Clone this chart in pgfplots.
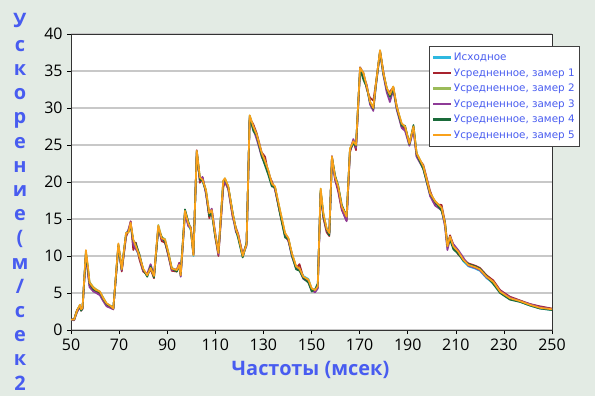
\documentclass[border=0pt]{standalone}
\usepackage{pgfplots}
\usepackage{pgfplotstable}
\pgfplotsset{compat=1.18}
\usepackage{fontspec}
\setmainfont{Open Sans}
\newfontfamily\legfont{DejaVu Sans}
\definecolor{bgc}{RGB}{227,235,228}
\definecolor{bluet}{RGB}{72,92,240}
\definecolor{cO}{RGB}{46,184,224}
\definecolor{cA}{RGB}{168,35,46}
\definecolor{cB}{RGB}{155,187,89}
\definecolor{cC}{RGB}{142,59,151}
\definecolor{cD}{RGB}{26,107,58}
\definecolor{cE}{RGB}{249,161,27}
\definecolor{gridc}{RGB}{200,200,200}
\pgfplotstableread{
x o a b c d e
50 1.4 1.4 1.4 1.4 1.4 1.4
51.3 1.4 1.5 1.4 1.3 1.4 1.4
52.5 2.5 2.7 2.6 2.4 2.6 2.6
53.7 3.3 3.2 3.4 3.1 3.3 3.4
54.2 2.7 2.6 2.8 2.7 2.6 2.8
54.8 2.9 3.0 3.0 2.8 3.0 3.0
56.2 10.5 10.2 10.6 10.3 10.4 10.8
57.2 7.6 7.4 8.0 7.2 7.8 8.1
57.7 6.2 6.0 6.5 5.8 6.3 6.4
59.3 5.6 5.4 5.8 5.2 5.5 5.7
60.5 5.3 5.2 5.5 5.0 5.3 5.4
62 5.0 4.9 5.2 4.7 5.1 5.2
63.4 4.2 4.1 4.4 3.9 4.2 4.3
64.8 3.5 3.4 3.6 3.2 3.5 3.6
66.9 3.1 3.0 3.2 2.9 3.1 3.15
67.6 2.9 2.8 2.9 2.8 2.9 2.9
69.7 11.4 11.5 11.6 11.2 11.3 11.7
71.1 8.0 7.9 8.3 8.1 8.2 8.2
72.9 12.9 12.6 13.0 12.8 13.1 13.1
73.9 13.5 13.4 13.2 13.6 13.3 13.2
74.8 14.3 14.7 14.4 14.6 14.2 14.5
75.9 11.8 10.8 12.0 11.5 12.1 12.2
77 11.0 11.8 11.2 10.9 11.6 11.3
78.4 9.9 9.6 10.0 10.2 10.3 10.1
80 8.1 7.9 8.2 8.0 8.2 8.3
81.7 7.3 7.5 7.4 7.6 7.2 7.4
83.1 8.5 8.2 8.4 8.9 8.6 8.4
84.5 7.2 7.0 7.3 7.4 7.1 7.3
86.3 13.8 14.0 14.2 13.6 13.7 14.1
87.7 12.2 12.0 12.5 12.3 12.6 12.4
89.1 11.9 11.8 12.3 12.0 11.9 12.2
90.5 10.2 10.0 10.5 10.1 10.3 10.4
91.9 8.2 8.0 8.4 8.1 8.3 8.3
94 8.0 7.9 8.1 8.2 7.9 8.1
95 8.6 9.1 8.8 9.0 8.7 8.8
95.6 7.3 7.5 7.4 7.2 7.6 7.4
97.4 15.9 16.0 16.1 15.7 16.3 16.1
98.8 14.2 14.1 14.5 14.0 14.6 14.4
99.8 13.5 13.9 13.7 13.8 13.6 13.7
100.9 10.0 10.3 10.1 10.2 10.4 10.1
102.3 24.0 24.3 24.2 23.9 24.1 24.2
103.6 20.4 19.9 20.6 20.2 20.3 20.6
104.7 20.1 20.6 20.3 20.7 20.2 20.3
106.1 18.7 18.6 19.0 18.4 18.8 18.9
107.5 15.5 15.1 15.8 15.6 15.4 15.8
108.5 16.0 16.3 16.2 16.4 15.9 16.2
109.9 12.9 12.7 13.1 13.3 12.8 13.1
111.3 10.3 10.0 10.4 10.2 10.5 10.4
113.3 19.8 19.2 20.0 19.6 20.1 20.2
114 20.3 20.1 20.5 20.0 20.4 20.5
115.4 19.2 19.0 19.4 19.1 19.3 19.4
117.2 15.6 15.3 15.8 15.5 15.9 15.8
118.6 13.4 13.8 13.6 13.2 13.5 13.6
119.5 12.6 13.0 12.8 12.9 12.4 12.8
121.4 9.9 10.2 10.0 10.1 9.8 10.0
123 11.5 11.7 11.6 11.4 11.8 11.6
124.3 28.8 28.6 29.0 28.7 28.9 29.0
125.8 27.3 27.8 27.5 27.1 26.9 27.5
127.2 26.2 26.6 26.4 25.8 26.3 26.4
129.3 23.7 24.0 23.9 23.4 23.5 23.9
130.7 22.6 23.4 22.8 22.5 22.2 22.8
132 21.4 21.2 21.6 21.5 21.0 21.6
133.5 19.6 20.1 19.8 19.7 19.4 19.8
134.8 19.2 19.0 19.4 19.1 19.3 19.4
136.9 16.0 15.8 16.2 15.9 15.7 16.2
139 12.9 12.8 13.1 12.7 12.5 13.1
140.4 12.2 12.0 12.4 12.1 12.3 12.4
141.8 10.2 10.4 10.4 10.0 10.1 10.4
143.6 8.5 8.3 8.6 8.4 8.2 8.6
145 8.4 8.9 8.3 8.2 8.0 8.3
146.6 7.3 7.1 7.2 6.9 7.0 7.2
148.7 6.9 6.6 6.8 6.5 6.4 6.8
150.1 5.5 5.4 5.6 5.3 5.2 5.6
151.5 5.2 5.3 5.4 5.1 5.5 5.4
152.6 5.7 5.8 5.9 5.6 6.3 5.9
153.8 18.8 18.6 19.1 18.5 18.7 19.1
154.9 15.6 15.2 15.8 15.4 15.5 15.8
156.3 13.5 13.2 13.7 13.4 13.6 13.7
157.4 12.9 12.7 13.1 13.0 12.8 13.1
158.5 23.2 23.5 23.4 23.0 23.3 23.4
159.8 20.5 20.3 20.7 20.4 20.9 20.7
161.1 19.2 18.7 19.4 19.0 19.5 19.4
162.6 16.5 16.2 16.7 16.4 16.9 16.7
163.9 15.6 15.3 15.8 15.2 15.9 15.8
164.6 15.1 14.8 15.3 14.7 15.4 15.3
166 24.3 24.0 24.5 24.2 24.4 24.5
167.4 25.3 25.6 25.5 25.8 25.2 25.5
168.5 24.8 24.3 25.0 24.6 24.9 25.0
170.2 35.2 35.5 35.4 35.0 35.3 35.4
171.6 34.5 34.7 34.7 34.3 33.8 34.7
173 32.7 32.5 32.9 33.1 32.8 32.9
174.3 30.7 31.4 30.9 30.5 30.8 30.9
175.7 29.8 31.0 30.0 29.6 29.9 30.0
176.8 33.1 33.4 33.3 33.0 33.2 33.3
178.5 37.6 37.7 37.8 37.5 37.6 37.8
179.9 34.5 34.9 34.7 34.4 34.6 34.7
181.3 32.5 32.3 32.7 32.1 32.6 32.7
182.6 31.6 32.2 31.8 30.8 31.5 31.8
184 32.7 32.8 32.9 32.5 32.6 32.9
185.4 30.0 30.3 30.2 29.8 30.1 30.2
187.5 27.7 27.4 27.9 27.3 27.6 27.9
188.9 27.3 27.2 27.5 26.9 27.6 27.5
190.7 25.0 25.3 25.2 24.9 25.1 25.2
192.4 27.3 27.2 27.5 27.1 27.7 27.5
193.7 23.7 23.5 23.9 23.4 23.8 23.9
196.5 21.9 22.3 22.1 21.8 21.7 22.1
199.3 18.3 18.8 18.5 18.1 18.4 18.5
201.4 17.2 17.0 17.4 16.8 17.3 17.4
204.1 16.3 16.9 16.5 16.2 16.1 16.5
205.5 14.2 14.6 14.4 14.0 14.5 14.4
206.5 11.1 11.5 11.3 10.8 11.4 11.3
207.6 12.4 12.8 12.6 12.3 12.2 12.6
209 11.1 11.5 11.3 11.6 10.9 11.3
211 10.4 10.2 10.6 10.8 10.3 10.6
213.1 9.3 9.6 9.5 9.8 9.4 9.5
215.2 8.6 9.0 8.8 8.7 8.9 8.8
218 8.3 8.7 8.5 8.4 8.6 8.5
220 8.0 8.4 8.2 8.1 8.3 8.2
222.8 7.0 7.4 7.2 7.1 7.3 7.2
225.6 6.3 6.7 6.5 6.4 6.2 6.5
228.4 5.1 5.4 5.2 5.3 5.0 5.2
232.5 4.2 4.5 4.3 4.4 4.1 4.3
236.7 3.8 4.0 3.9 3.9 3.8 3.9
240.9 3.3 3.5 3.4 3.5 3.3 3.4
245 2.9 3.2 3.0 3.1 2.9 3.0
250 2.7 2.9 2.8 2.8 2.7 2.8
}\datatable
\begin{document}
\begin{tikzpicture}[x=1bp,y=1bp]
\fill[bgc] (0,0) rectangle (595,396);
\useasboundingbox (0,0) rectangle (595,396);
\begin{axis}[
  at={(71bp,66bp)}, anchor=south west,
  scale only axis, width=481bp, height=296bp,
  xmin=50, xmax=250, ymin=0, ymax=40,
  xtick={50,70,...,250}, ytick={0,5,...,40},
  xtick pos=left, ytick pos=left, tick align=outside,
  major tick length=4bp,
  tick style={black, line width=0.6bp},
  ymajorgrids, grid style={gridc, line width=1.1bp},
  axis background/.style={fill=white},
  axis line style={black!80, line width=0.9bp},
  ticklabel style={font=\fontsize{16}{18}\selectfont},
  /pgf/number format/assume math mode=true,
  xticklabel style={yshift=-1bp},
  yticklabel style={xshift=-1bp},
  legend style={at={(0.744,0.959)}, anchor=north west, draw=black!75,
    line width=0.8bp, fill=white,
    font=\legfont\fontsize{10.4}{12.5}\selectfont, text=bluet,
    row sep=2.4bp, inner xsep=3bp, inner ysep=4.5bp,
    nodes={inner xsep=1.5bp}},
  legend cell align=left,
  legend image code/.code={\draw[#1, line width=2.2bp] (0bp,0bp) -- (18bp,0bp);},
  every axis plot/.append style={line width=1.7bp, line join=round},
]
\addplot[cO] table[x=x,y=o] {\datatable};
\addlegendentry{Исходное}
\addplot[cA] table[x=x,y=a] {\datatable};
\addlegendentry{Усредненное, замер 1}
\addplot[cB] table[x=x,y=b] {\datatable};
\addlegendentry{Усредненное, замер 2}
\addplot[cC] table[x=x,y=c] {\datatable};
\addlegendentry{Усредненное, замер 3}
\addplot[cD] table[x=x,y=d] {\datatable};
\addlegendentry{Усредненное, замер 4}
\addplot[cE] table[x=x,y=e] {\datatable};
\addlegendentry{Усредненное, замер 5}
\end{axis}
\node[anchor=base, text=bluet, font=\bfseries\fontsize{20}{24}\selectfont] at (310.5,21) {Частоты (мсек)};
\foreach \c [count=\i] in {У,с,к,о,р,е,н,и,е,{(},м,/,с,е,к,2}
  \node[anchor=base, text=bluet, font=\bfseries\fontsize{20}{24}\selectfont, inner sep=0pt] at (20,{369-24.2*(\i-1)}) {\c};
\end{tikzpicture}
\end{document}
